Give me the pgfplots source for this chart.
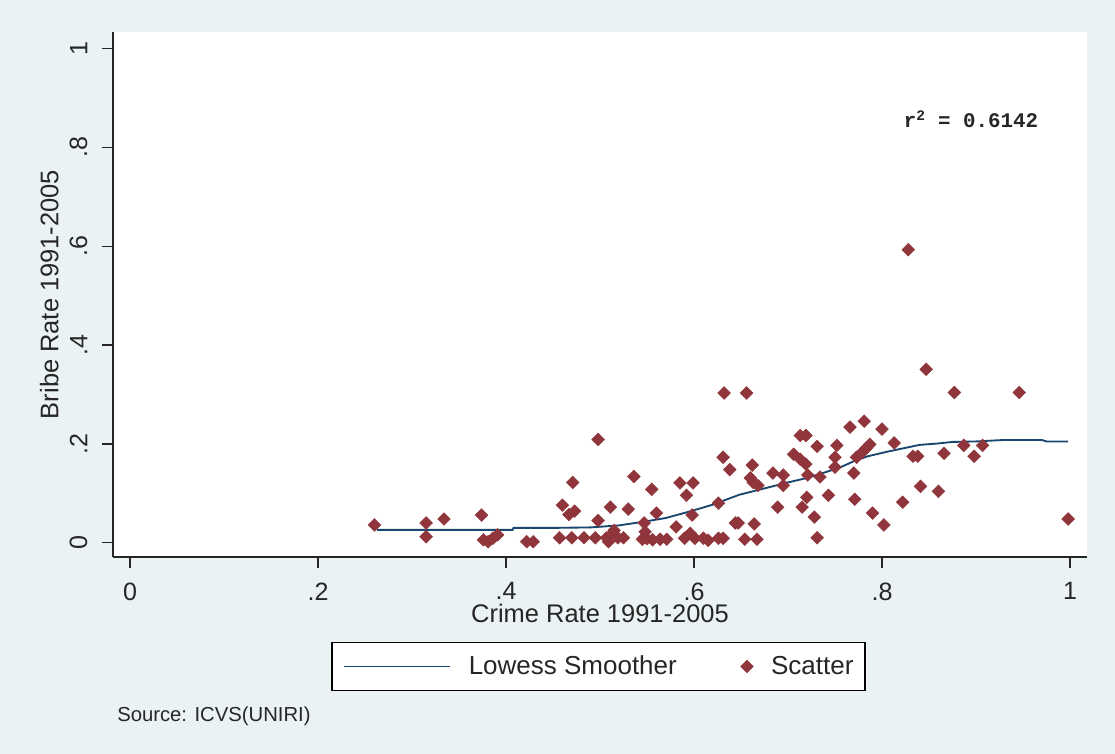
\documentclass[border=0pt]{standalone}
\usepackage{pgfplots}
\pgfplotsset{compat=1.18}
\usepackage{pgfplotstable}
\usepackage{fontspec}
\setmainfont{Liberation Sans}
\newfontfamily\monofont{Liberation Mono}
\definecolor{bgc}{RGB}{234,242,243}
\definecolor{stmaroon}{RGB}{144,53,59}
\definecolor{stnavy}{RGB}{26,71,111}
\pgfplotsset{lowessleg/.style={legend image code/.code={\draw[##1] (0pt,0pt) -- (79pt,0pt);}}}

\pgfplotstableread{
x y
0.260 0.036
0.315 0.040
0.315 0.012
0.334 0.048
0.374 0.056
0.376 0.006
0.381 0.002
0.386 0.009
0.391 0.016
0.422 0.002
0.429 0.002
0.460 0.076
0.467 0.057
0.473 0.064
0.471 0.122
0.457 0.010
0.470 0.010
0.483 0.010
0.495 0.010
0.498 0.045
0.498 0.209
0.507 0.010
0.509 0.002
0.512 0.016
0.515 0.025
0.519 0.010
0.525 0.010
0.511 0.072
0.530 0.068
0.536 0.134
0.545 0.007
0.547 0.040
0.548 0.022
0.550 0.008
0.555 0.108
0.556 0.006
0.560 0.060
0.564 0.007
0.571 0.007
0.581 0.032
0.585 0.121
0.590 0.009
0.592 0.096
0.596 0.019
0.598 0.056
0.599 0.121
0.601 0.009
0.610 0.009
0.615 0.005
0.626 0.080
0.626 0.009
0.631 0.009
0.631 0.173
0.632 0.303
0.638 0.148
0.644 0.040
0.647 0.040
0.654 0.007
0.656 0.303
0.660 0.131
0.662 0.157
0.663 0.122
0.664 0.038
0.667 0.007
0.668 0.116
0.684 0.141
0.689 0.072
0.695 0.137
0.695 0.116
0.706 0.179
0.713 0.169
0.713 0.217
0.715 0.072
0.719 0.159
0.719 0.217
0.720 0.092
0.721 0.137
0.728 0.052
0.731 0.010
0.731 0.195
0.734 0.133
0.743 0.096
0.750 0.173
0.750 0.153
0.752 0.197
0.766 0.234
0.770 0.141
0.771 0.088
0.773 0.173
0.779 0.183
0.781 0.246
0.783 0.191
0.787 0.199
0.790 0.060
0.800 0.230
0.802 0.036
0.813 0.202
0.822 0.082
0.828 0.593
0.833 0.175
0.838 0.175
0.841 0.114
0.847 0.351
0.860 0.104
0.866 0.181
0.877 0.304
0.887 0.197
0.898 0.175
0.907 0.197
0.946 0.304
0.998 0.048
}\scatterdata

\pgfplotstableread{
x y
0.263 0.026
0.300 0.026
0.350 0.026
0.407 0.026
0.408 0.030
0.450 0.030
0.490 0.031
0.520 0.035
0.545 0.042
0.570 0.050
0.595 0.063
0.620 0.077
0.648 0.097
0.675 0.110
0.700 0.122
0.720 0.131
0.737 0.141
0.755 0.152
0.770 0.165
0.785 0.175
0.805 0.184
0.825 0.192
0.840 0.198
0.860 0.201
0.875 0.204
0.900 0.205
0.930 0.208
0.970 0.208
0.975 0.205
0.998 0.205
}\lowessdata

\begin{document}
\begin{tikzpicture}
\fill[bgc] (0,0) rectangle (836.25pt,565.5pt);
\begin{axis}[
  at={(84.75pt,147.75pt)}, anchor=south west,
  scale only axis, width=730.5pt, height=393.75pt,
  xmin=-0.0181, xmax=1.0181, ymin=-0.0289, ymax=1.0337,
  axis background/.style={fill=white},
  axis x line=bottom, axis y line=left,
  axis line style={-, line width=1.1pt, black!85},
  tick align=outside, major tick length=8.25pt,
  every tick/.style={line width=1.1pt, black!85},
  xtick={0,0.2,0.4,0.6,0.8,1}, xticklabels={0,.2,.4,.6,.8,1},
  ytick={0,0.2,0.4,0.6,0.8,1}, yticklabels={0,.2,.4,.6,.8,1},
  tick label style={font=\fontsize{18.8}{22}\selectfont, text=black!85},
  xticklabel style={yshift=-7.5pt},
  yticklabel style={xshift=-7.5pt, rotate=90, anchor=south},
  xlabel={Crime Rate 1991-2005},
  ylabel={Bribe Rate 1991-2005},
  every axis x label/.style={at={(axis description cs:0.5,0)}, anchor=base, yshift=-48.75pt,
    font=\fontsize{19.1}{22}\selectfont, text=black!85},
  every axis y label/.style={at={(axis description cs:0,0.5)}, xshift=-41pt, rotate=90, anchor=base,
    font=\fontsize{19.1}{22}\selectfont, text=black!85},
  reverse legend,
  legend columns=2,
  legend style={at={(axis description cs:0.4985,0)}, anchor=center, yshift=-82.1pt,
    draw=black, line width=1.1pt, fill=white,
    font=\fontsize{19.5}{22}\selectfont, text=black!85,
    inner xsep=8.5pt, inner ysep=2pt,
    nodes={inner xsep=0pt, inner ysep=8.2pt},
    /tikz/column 1/.style={column sep=13.5pt},
    /tikz/column 2/.style={column sep=47.8pt},
    /tikz/column 3/.style={column sep=13.3pt}},
]
\addplot[only marks, mark=square*, mark size=3.4pt,
  mark options={rotate=45, fill=stmaroon, draw=stmaroon, line width=0.3pt}]
  table[x=x, y=y] {\scatterdata};
\addlegendentry{Scatter}
\addplot[stnavy, line width=1.4pt, no markers, lowessleg]
  table[x=x, y=y] {\lowessdata};
\addlegendentry{Lowess Smoother}
\node[anchor=base west, inner sep=0pt, font=\monofont\bfseries\fontsize{15.6}{18}\selectfont, text=black!85]
  at (axis cs:0.823,0.840) {r\textsuperscript{2} = 0.6142};
\end{axis}
\node[anchor=base west, inner sep=0pt, font=\fontsize{15.2}{18}\selectfont, text=black!85]
  at (87.75pt,24pt) {Source: ICVS(UNIRI)};
\pgfresetboundingbox
\path[use as bounding box] (0,0) rectangle (836.25pt,565.5pt);
\end{tikzpicture}
\end{document}
